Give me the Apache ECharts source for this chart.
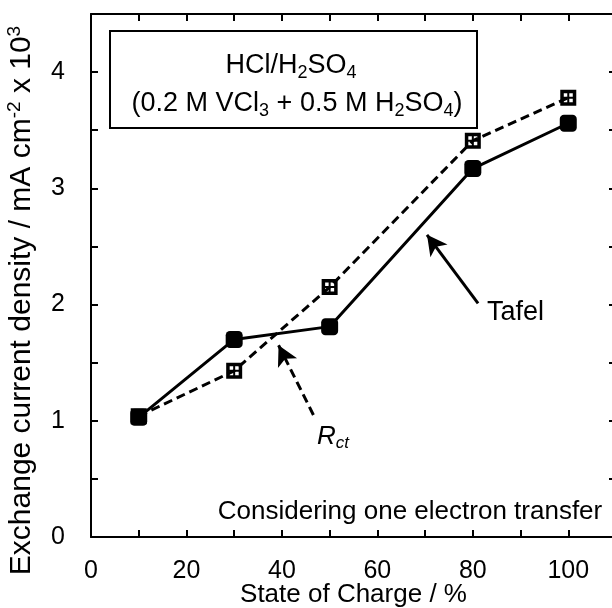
<!DOCTYPE html>
<html>
<head>
<meta charset="utf-8">
<script src="https://cdn.jsdelivr.net/npm/echarts@6/dist/echarts.min.js"></script>
<style>html,body{margin:0;padding:0;background:#fff}#c{width:612px;height:608px}</style>
</head>
<body>
<div id="c"></div>
<script>
// Data
const soc = [10, 30, 50, 80, 100];
const tafel = [1.03, 1.70, 1.81, 3.17, 3.56];
const rct = [1.04, 1.43, 2.15, 3.41, 3.78];
const xTickLabels = [0, 20, 40, 60, 80, 100];
const yTickLabels = [0, 1, 2, 3, 4];
// annotation arrows (data coords): [tail, head]
const tafelArrow = [[81.1, 2.01], [70.4, 2.60]];
const rctArrow = [[46.6, 1.05], [39.3, 1.65]];

const FONT = '"Liberation Sans", Arial, sans-serif';
const FS = 25;
const chart = echarts.init(document.getElementById('c'), null, {renderer: 'canvas'});

const openSym = 'path://M0,0H16V16H0Z M3.5,3.5V7H7V3.5Z M9,3.5V7H12.5V3.5Z M3.5,9V12.5H7V9Z M9,9V12.5H12.5V9Z';

const mkLine = () => ({show: true, onZero: false, lineStyle: {color: '#000', width: 2}});
const mkTick = () => ({show: true, inside: true, length: 7, lineStyle: {color: '#000', width: 2}});

chart.setOption({
  animation: false,
  backgroundColor: '#fff',
  grid: {left: 91, top: 14, width: 525, height: 523, containLabel: false, outerBoundsMode: 'none'},
  xAxis: [{
    type: 'value', min: 0, max: 110, interval: 10, position: 'bottom',
    axisLine: mkLine(), axisTick: mkTick(), splitLine: {show: false},
    axisLabel: {margin: 22, color: '#000', fontSize: FS, fontFamily: FONT,
      formatter: v => xTickLabels.includes(v) ? String(v) : ''},
    name: 'State of Charge / %', nameLocation: 'middle', nameGap: 45, nameMoveOverlap: false,
    nameTextStyle: {color: '#000', fontSize: 26, fontFamily: FONT}
  }, {
    type: 'value', min: 0, max: 110, interval: 10, position: 'top',
    axisLine: mkLine(), axisTick: mkTick(), splitLine: {show: false}, axisLabel: {show: false}
  }],
  yAxis: [{
    type: 'value', min: 0, max: 4.5, interval: 0.5, position: 'left',
    axisLine: mkLine(), axisTick: mkTick(), splitLine: {show: false},
    axisLabel: {margin: 26, color: '#000', fontSize: FS, fontFamily: FONT,
      formatter: v => yTickLabels.includes(v) ? String(v) : ''},
    name: 'Exchange current density / mA cm{sup|-2} x 10{sup|3}',
    nameLocation: 'middle', nameGap: 52, nameRotate: 90, nameMoveOverlap: false,
    nameTextStyle: {color: '#000', fontSize: 30, fontFamily: FONT, lineHeight: 34,
      padding: [0, 50, 0, 0],
      rich: {sup: {fontSize: 19, fontFamily: FONT, color: '#000', lineHeight: 34, verticalAlign: 'top'}}}
  }, {
    type: 'value', min: 0, max: 4.5, interval: 0.5, position: 'right',
    axisLine: mkLine(), axisTick: mkTick(), splitLine: {show: false}, axisLabel: {show: false}
  }],
  series: [{
    name: 'Rct', type: 'line', z: 3,
    data: soc.map((x, i) => [x, rct[i]]),
    symbol: openSym, symbolSize: 16, symbolKeepAspect: true,
    lineStyle: {color: '#000', width: 3, type: [9, 5]},
    itemStyle: {color: '#000', borderWidth: 0},
    markLine: {
      silent: true, symbol: ['none', 'arrow'], symbolSize: [16, 20],
      label: {show: false},
      lineStyle: {color: '#000', width: 3, type: [9, 5]},
      data: [[{coord: rctArrow[0]}, {coord: rctArrow[1]}]]
    }
  }, {
    name: 'Tafel', type: 'line', z: 4,
    data: soc.map((x, i) => [x, tafel[i]]),
    symbol: 'roundRect', symbolSize: 17,
    lineStyle: {color: '#000', width: 3},
    itemStyle: {color: '#000', borderWidth: 0},
    markLine: {
      silent: true, symbol: ['none', 'arrow'], symbolSize: [16, 20],
      label: {show: false},
      lineStyle: {color: '#000', width: 3, type: 'solid'},
      data: [[{coord: tafelArrow[0]}, {coord: tafelArrow[1]}]]
    }
  }],
  graphic: [
    {type: 'rect', z: 10, shape: {x: 110, y: 31, width: 367, height: 97},
     style: {fill: '#fff', stroke: '#000', lineWidth: 2}},
    {type: 'text', z: 11, x: 291, y: 66,
     style: {text: 'HCl/H{sub|2}SO{sub|4}', fill: '#000', font: '27px ' + FONT,
       align: 'center', verticalAlign: 'middle', lineHeight: 32,
       rich: {sub: {fontSize: 18, fontFamily: FONT, fill: '#000', lineHeight: 32, verticalAlign: 'bottom'}}}},
    {type: 'text', z: 11, x: 297, y: 104,
     style: {text: '(0.2 M VCl{sub|3} + 0.5 M H{sub|2}SO{sub|4})', fill: '#000', font: '27px ' + FONT,
       align: 'center', verticalAlign: 'middle', lineHeight: 32,
       rich: {sub: {fontSize: 18, fontFamily: FONT, fill: '#000', lineHeight: 32, verticalAlign: 'bottom'}}}},
    {type: 'text', z: 11, x: 410, y: 512,
     style: {text: 'Considering one electron transfer', fill: '#000', font: '26px ' + FONT,
       align: 'center', verticalAlign: 'middle'}},
    {type: 'text', z: 11, x: 487, y: 313,
     style: {text: 'Tafel', fill: '#000', font: '27px ' + FONT, align: 'left', verticalAlign: 'middle'}},
    {type: 'text', z: 11, x: 317, y: 437,
     style: {text: 'R{sub|ct}', fill: '#000', font: 'italic 26px ' + FONT,
       align: 'left', verticalAlign: 'middle', lineHeight: 30,
       rich: {sub: {fontSize: 17, fontStyle: 'italic', fontFamily: FONT, fill: '#000', lineHeight: 30, verticalAlign: 'bottom'}}}}
  ]
});
</script>
</body>
</html>
